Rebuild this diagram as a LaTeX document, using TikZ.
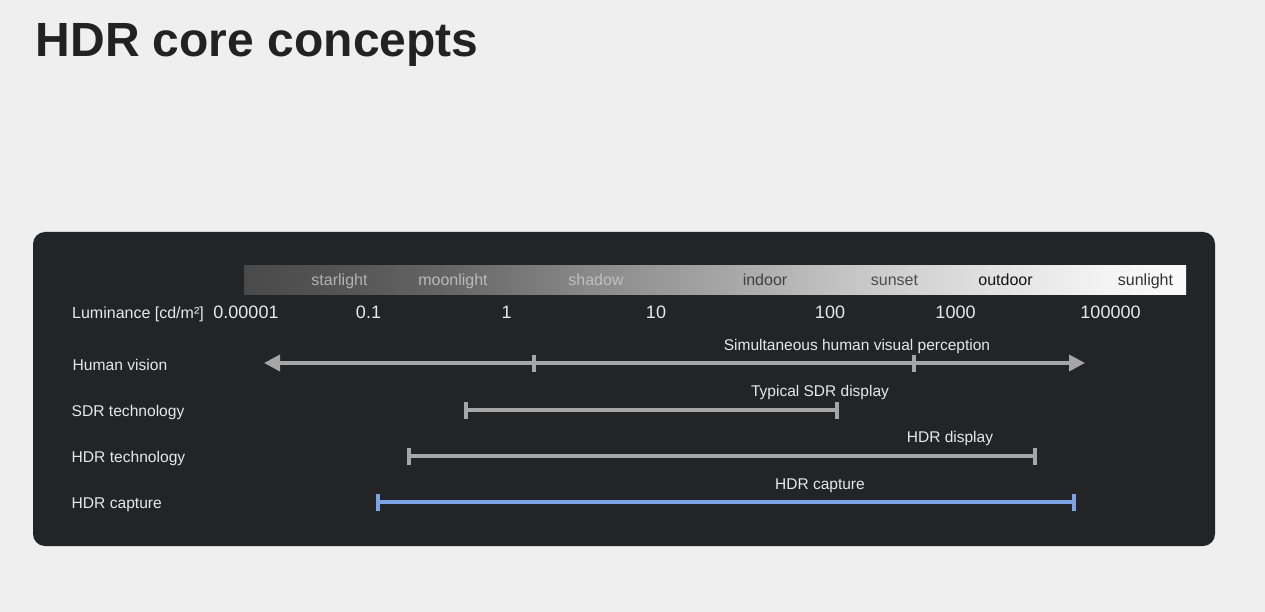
\documentclass[tikz,border=0pt]{standalone}
\usepackage{fontspec}
\setmainfont{Liberation Sans}
\usetikzlibrary{arrows.meta}
\definecolor{bg}{HTML}{EEEFEE}
\definecolor{panel}{HTML}{232425}
\definecolor{txt}{HTML}{E8E8E8}
\definecolor{titlecol}{HTML}{222222}
\definecolor{rangegray}{HTML}{A6A6A6}
\definecolor{capblue}{HTML}{7EA2E6}
\definecolor{gA}{HTML}{4A4A4A}
\definecolor{gB}{HTML}{545454}
\definecolor{gC}{HTML}{666666}
\definecolor{gD}{HTML}{8A8A8A}
\definecolor{gE}{HTML}{A8A8A8}
\definecolor{gF}{HTML}{C4C4C4}
\definecolor{gG}{HTML}{CFCFCF}
\definecolor{gH}{HTML}{E4E4E4}
\definecolor{gI}{HTML}{F4F4F4}
\definecolor{gJ}{HTML}{FAFAFA}
\pgfdeclarehorizontalshading{lum}{100bp}{color(0bp)=(gA); color(25bp)=(gA); color(30bp)=(gB); color(36bp)=(gC); color(43.5bp)=(gD); color(51bp)=(gE); color(57bp)=(gF); color(59.5bp)=(gG); color(65.5bp)=(gH); color(71bp)=(gI); color(75bp)=(gJ); color(100bp)=(gJ)}
\tikzset{
  titlestyle/.style={font=\fontsize{48}{58}\selectfont\bfseries, text=titlecol, inner sep=0pt, anchor=base west},
  barlbl/.style={font=\fontsize{16}{19}\selectfont, inner sep=0pt, anchor=base},
  numlbl/.style={font=\fontsize{18}{21}\selectfont, text=txt, inner sep=0pt, anchor=base},
  rowlbl/.style={font=\fontsize{15.6}{19}\selectfont, text=txt, inner sep=0pt, anchor=base west},
  rangelbl/.style={font=\fontsize{15.5}{19}\selectfont, text=txt, inner sep=0pt, anchor=base},
  rangeline/.style={line width=3.6pt, draw=rangegray},
  bluerange/.style={line width=3.6pt, draw=capblue},
  tickmark/.style={line width=4pt},
}
\begin{document}
\begin{tikzpicture}[x=1pt,y=-1pt]
\useasboundingbox[fill=bg] (0,0) rectangle (1265,612);
\node[titlestyle] (title) at (35.5,57) {HDR core concepts};
\fill[panel, rounded corners=12pt] (33,232) rectangle (1215,546);
\shade[shading=lum] (244,265) rectangle (1186,294);
% bar labels
\node[barlbl, text=black!30!white] (starlight) at (339.5,285) {starlight};
\node[barlbl, text=black!27!white] (moonlight) at (453,285) {moonlight};
\node[barlbl, text=black!25!white] (shadow) at (596,285) {shadow};
\node[barlbl, text=black!75] (indoor) at (765,285) {indoor};
\node[barlbl, text=black!70] (sunset) at (894.5,285) {sunset};
\node[barlbl, text=black!92] (outdoor) at (1005.5,285) {outdoor};
\node[barlbl, text=black!80] (sunlight) at (1145.5,285) {sunlight};
% luminance row
\node[rowlbl, font=\fontsize{16}{19}\selectfont] (lumlbl) at (72,318) {Luminance [cd/m²]};
\node[numlbl] (n1) at (246,318) {0.00001};
\node[numlbl] (n2) at (368.5,318) {0.1};
\node[numlbl] (n3) at (506.5,318) {1};
\node[numlbl] (n4) at (656,318) {10};
\node[numlbl] (n5) at (830,318) {100};
\node[numlbl] (n6) at (955.5,318) {1000};
\node[numlbl] (n7) at (1110.5,318) {100000};
% row labels
\node[rowlbl] (hv) at (72.5,370) {Human vision};
\node[rowlbl] (sdr) at (71.5,416) {SDR technology};
\node[rowlbl] (hdrt) at (71.5,462) {HDR technology};
\node[rowlbl] (hdrc) at (71.5,508) {HDR capture};
% range labels
\node[rangelbl] (hvl) at (857,350) {Simultaneous human visual perception};
\node[rangelbl] (sdrl) at (820,396) {Typical SDR display};
\node[rangelbl] (hdrtl) at (950,442) {HDR display};
\node[rangelbl] (hdrcl) at (820,489) {HDR capture};
% coordinates
\coordinate (hvA) at (264,363);
\coordinate (hvB) at (1085,363);
\coordinate (hvT1) at (534,363);
\coordinate (hvT2) at (914,363);
\coordinate (sdrA) at (466,410);
\coordinate (sdrB) at (837,410);
\coordinate (hdrA) at (409,456);
\coordinate (hdrB) at (1035,456);
\coordinate (capA) at (378,502);
\coordinate (capB) at (1074,502);
% ranges
\draw[rangeline, {Triangle[length=16pt,width=16pt]}-{Triangle[length=16pt,width=16pt]}] (hvA) -- (hvB);
\draw[rangeline] (sdrA) -- (sdrB);
\draw[rangeline] (hdrA) -- (hdrB);
\draw[bluerange] (capA) -- (capB);
\foreach \c in {hvT1,hvT2,sdrA,sdrB,hdrA,hdrB}
  \draw[tickmark, draw=rangegray] ([yshift=8.5pt]\c) -- ([yshift=-8.5pt]\c);
\foreach \c in {capA,capB}
  \draw[tickmark, draw=capblue] ([yshift=8.5pt]\c) -- ([yshift=-8.5pt]\c);
\end{tikzpicture}
\end{document}
